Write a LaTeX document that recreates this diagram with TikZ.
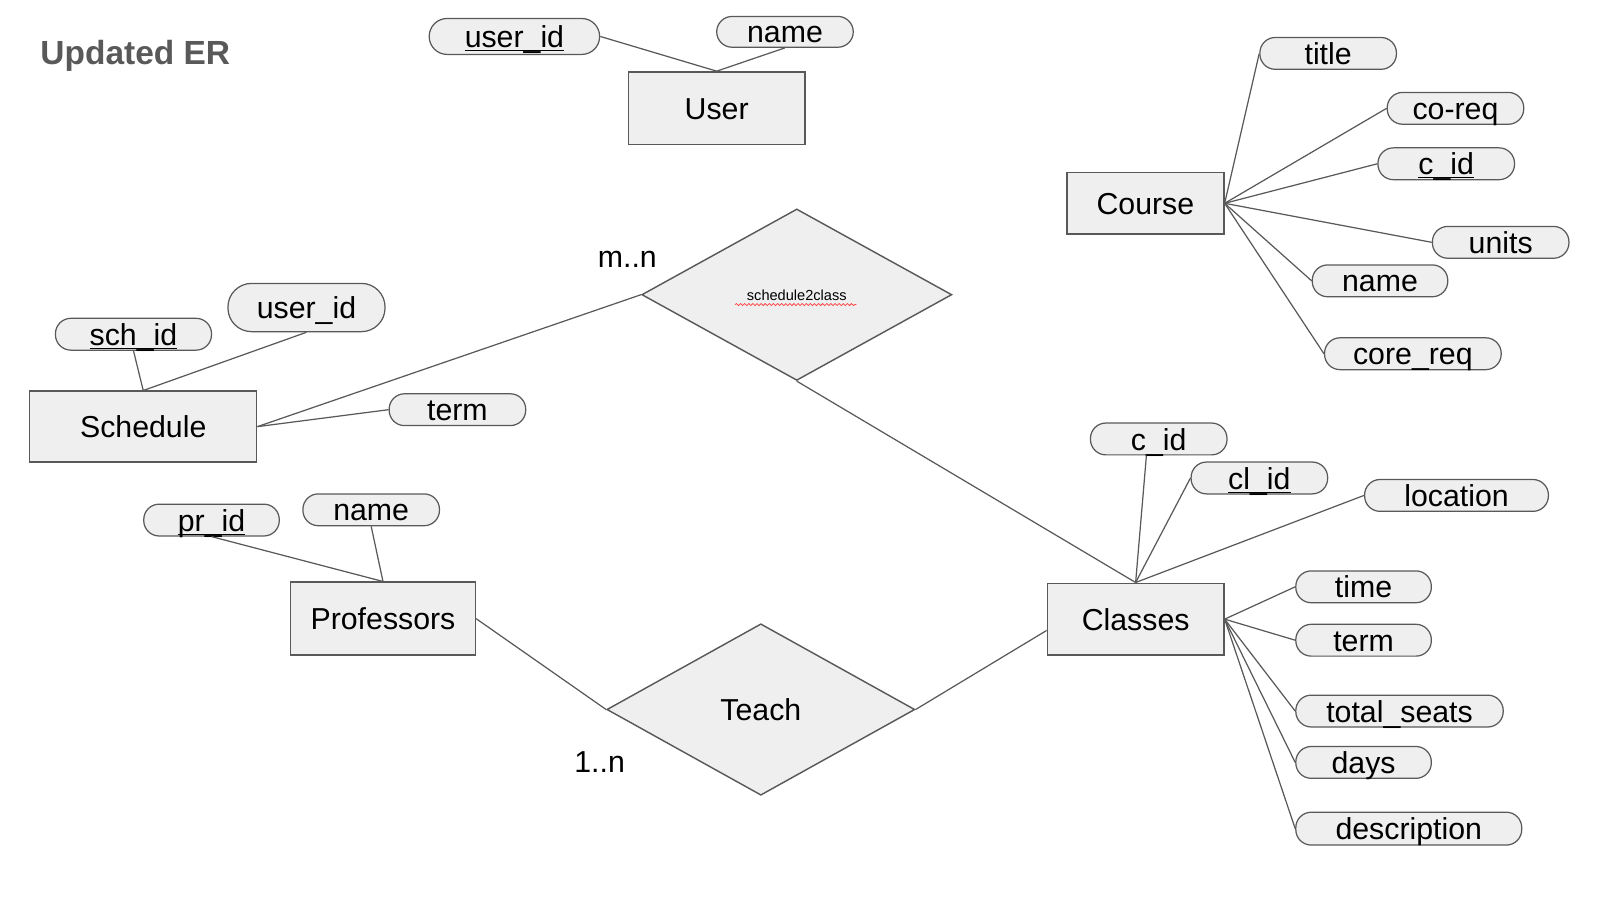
\documentclass[tikz,border=0pt]{standalone}
\usepackage{fontspec}
\setmainfont{Liberation Sans}
\usetikzlibrary{shapes.geometric,decorations.pathmorphing,calc}
\definecolor{erline}{HTML}{595959}
\definecolor{erfill}{HTML}{EFEFEF}
\newcommand{\pk}[1]{\underline{\smash{#1}}}
\begin{document}
\begin{tikzpicture}[x=0.5pt,y=-0.5pt,
		entity/.style={draw=erline,fill=erfill,line width=0.7pt,inner sep=0pt,text height=10.8pt,text depth=0pt,font=\fontsize{14.75}{17}\selectfont},
		attr/.style={draw=erline,fill=erfill,line width=0.6pt,rounded corners=7.5pt,minimum height=15.5pt,inner sep=0pt,text height=10.8pt,text depth=0pt,font=\fontsize{14.75}{17}\selectfont},
		rel/.style={diamond,draw=erline,fill=erfill,line width=0.7pt,inner sep=0pt,minimum width=151pt,minimum height=83.5pt},
		link/.style={draw=erline,line width=0.6pt},
		card/.style={inner sep=0pt,text height=10.8pt,text depth=0pt,font=\fontsize{14.75}{17}\selectfont}]
				\useasboundingbox (0,0) rectangle (1568,878.5);
				\node [anchor=base west,inner sep=0pt,text=erline,font=\bfseries\fontsize{16.3}{19}\selectfont] (title) at (39,63.3) {Updated ER};
			
				\node [entity,minimum width=86pt,minimum height=35.5pt] (user) at (698,105.5) {User};
				\node [entity,minimum width=76.5pt,minimum height=30pt] (course) at (1115.5,198) {Course};
				\node [entity,minimum width=110.5pt,minimum height=34.5pt] (schedule) at (139.5,415.5) {Schedule};
				\node [entity,minimum width=90pt,minimum height=35.5pt] (professors) at (373,602.5) {Professors};
				\node [entity,minimum width=86pt,minimum height=35pt] (classes) at (1106,603) {Classes};
			
				\node [rel,text height=5.2pt,text depth=0pt] (sched2class) at (776,287) {\fontsize{7.1}{8}\selectfont schedule2class};
				\node [rel,minimum width=150pt,text height=10.8pt,text depth=0pt] (teach) at (741,691) {\fontsize{14.75}{17}\selectfont Teach};
			
				\node [attr,minimum width=83pt,minimum height=17.5pt,rounded corners=8.7pt] (userid) at (501,35.5) {\pk{user\_id}};
				\node [attr,minimum width=66.5pt,minimum height=15pt] (uname) at (764.5,31) {name};
			
				\node [attr,minimum width=66.5pt] (title) at (1293.5,52) {title};
				\node [attr,minimum width=66.5pt] (coreq) at (1417.5,105.5) {co-req};
				\node [attr,minimum width=66.5pt] (ccid) at (1408.5,159.5) {\pk{c\_id}};
				\node [attr,minimum width=66.5pt] (units) at (1461.5,236) {units};
				\node [attr,minimum width=66pt] (cname) at (1344,273.5) {name};
				\node [attr,minimum width=86pt] (corereq) at (1376,344.5) {core\_req};
			
				\node [attr,minimum width=76pt] (schid) at (130,325.5) {\pk{sch\_id}};
				\node [attr,minimum width=76.5pt,minimum height=23.5pt,rounded corners=11.5pt] (suserid) at (298.5,299.5) {user\_id};
				\node [attr,minimum width=66.5pt] (sterm) at (445.5,399) {term};
			
				\node [attr,minimum width=66pt] (prid) at (206,506.5) {\pk{pr\_id}};
				\node [attr,minimum width=66.5pt] (pname) at (361.5,496.5) {name};
			
				\node [attr,minimum width=66.5pt] (clcid) at (1128.5,427.5) {c\_id};
				\node [attr,minimum width=66.5pt] (clid) at (1226.5,465.5) {\pk{cl\_id}};
				\node [attr,minimum width=89.5pt] (location) at (1418.5,482.5) {location};
				\node [attr,minimum width=66pt] (time) at (1328,571.5) {time};
				\node [attr,minimum width=66pt] (cterm) at (1328,623.5) {term};
				\node [attr,minimum width=101pt] (seats) at (1363,692.5) {total\_seats};
				\node [attr,minimum width=66pt] (days) at (1328,742.5) {days};
				\node [attr,minimum width=110pt,minimum height=16pt] (descr) at (1372,807) {description};
			
				\node [card] (mn) at (611,250) {m..n};
				\node [card] (onen) at (584,742) {1..n};
			
				\draw [link] (userid.east) -- (user.north);
				\draw [link] (uname.south) -- (user.north);
				\foreach \a in {title,coreq,ccid,units,cname,corereq}
					\draw [link] (course.east) -- (\a.west);
				\draw [link] (schid.south) -- (schedule.north);
				\draw [link] (suserid.south) -- (schedule.north);
				\draw [link] (sterm.west) -- (schedule.east);
				\draw [link] (schedule.east) -- (sched2class.west);
				\draw [link] (sched2class.south) -- (classes.north);
				\draw [link] ([xshift=-6pt]clcid.south) -- (classes.north);
				\draw [link] (clid.west) -- (classes.north);
				\draw [link] (location.west) -- (classes.north);
				\foreach \a in {time,cterm,seats,days,descr}
					\draw [link] (classes.east) -- (\a.west);
				\draw [link] (prid.south) -- (professors.north);
				\draw [link] (pname.south) -- (professors.north);
				\draw [link] (professors.east) -- (teach.west);
				\draw [link] (teach.east) -- ([yshift=-5.5pt]classes.west);
			
				\draw [red!75,line width=0.35pt,decorate,decoration={snake,amplitude=0.5pt,segment length=2pt}] ($(sched2class)+(-60,9.6)$) -- ($(sched2class)+(58,9.6)$);
\end{tikzpicture}
\end{document}
